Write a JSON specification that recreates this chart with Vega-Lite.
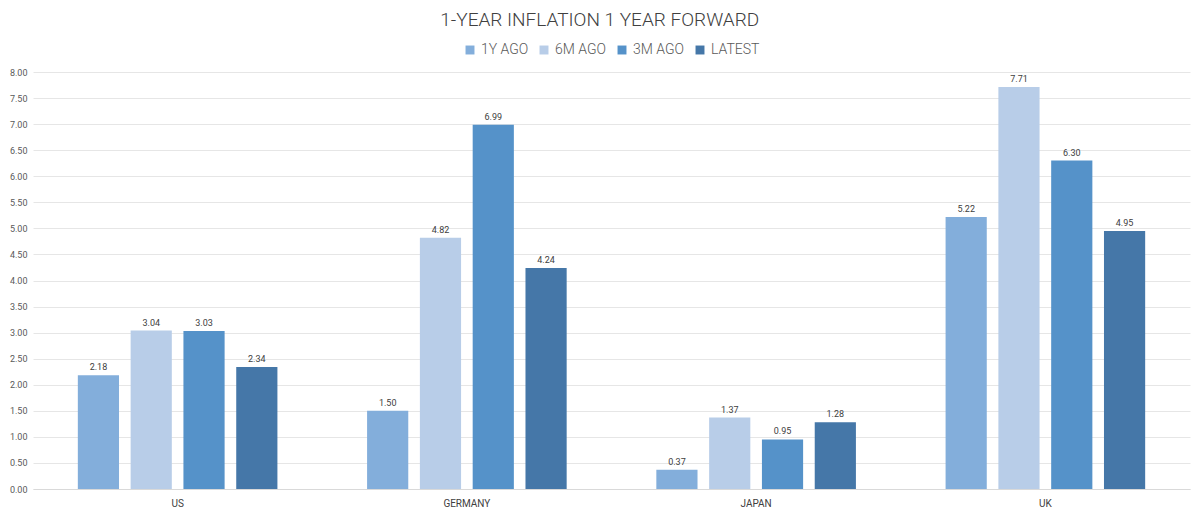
{
  "$schema": "https://vega.github.io/schema/vega-lite/v6.json",
  "width": 1200,
  "height": 514,
  "autosize": {"type": "fit", "contains": "padding"},
  "padding": {"left": 9, "right": 10, "top": 11, "bottom": 6},
  "background": "white",
  "title": {
    "text": "1-YEAR INFLATION 1 YEAR FORWARD",
    "fontSize": 19,
    "font": "Roboto",
    "fontWeight": 300,
    "color": "#404040",
    "anchor": "middle",
    "frame": "bounds",
    "offset": 13
  },
  "data": {
    "values": [
      {"country": "US", "series": "1Y AGO", "value": 2.18},
      {"country": "US", "series": "6M AGO", "value": 3.04},
      {"country": "US", "series": "3M AGO", "value": 3.03},
      {"country": "US", "series": "LATEST", "value": 2.34},
      {"country": "GERMANY", "series": "1Y AGO", "value": 1.50},
      {"country": "GERMANY", "series": "6M AGO", "value": 4.82},
      {"country": "GERMANY", "series": "3M AGO", "value": 6.99},
      {"country": "GERMANY", "series": "LATEST", "value": 4.24},
      {"country": "JAPAN", "series": "1Y AGO", "value": 0.37},
      {"country": "JAPAN", "series": "6M AGO", "value": 1.37},
      {"country": "JAPAN", "series": "3M AGO", "value": 0.95},
      {"country": "JAPAN", "series": "LATEST", "value": 1.28},
      {"country": "UK", "series": "1Y AGO", "value": 5.22},
      {"country": "UK", "series": "6M AGO", "value": 7.71},
      {"country": "UK", "series": "3M AGO", "value": 6.30},
      {"country": "UK", "series": "LATEST", "value": 4.95}
    ]
  },
  "encoding": {
    "x": {
      "field": "country",
      "type": "nominal",
      "sort": ["US", "GERMANY", "JAPAN", "UK"],
      "scale": {"paddingInner": 0.31, "paddingOuter": 0.155},
      "axis": {
        "title": null,
        "labelAngle": 0,
        "labelFontSize": 10,
        "labelFont": "Roboto",
        "labelColor": "#404040",
        "ticks": false,
        "domainColor": "#d9d9d9",
        "labelPadding": 9
      }
    },
    "xOffset": {
      "field": "series",
      "type": "nominal",
      "sort": ["1Y AGO", "6M AGO", "3M AGO", "LATEST"],
      "scale": {"paddingInner": 0.22, "paddingOuter": 0}
    },
    "y": {
      "field": "value",
      "type": "quantitative",
      "scale": {"domain": [0, 8]},
      "axis": {
        "title": null,
        "values": [0, 0.5, 1, 1.5, 2, 2.5, 3, 3.5, 4, 4.5, 5, 5.5, 6, 6.5, 7, 7.5, 8],
        "format": ".2f",
        "labelFontSize": 9,
        "labelFont": "Roboto",
        "labelColor": "#595959",
        "ticks": false,
        "domain": false,
        "gridColor": "#e6e6e6",
        "labelPadding": 6
      }
    }
  },
  "layer": [
    {
      "mark": {"type": "bar"},
      "encoding": {
        "color": {
          "field": "series",
          "type": "nominal",
          "sort": ["1Y AGO", "6M AGO", "3M AGO", "LATEST"],
          "scale": {
            "domain": ["1Y AGO", "6M AGO", "3M AGO", "LATEST"],
            "range": ["#83AEDB", "#B8CDE8", "#5592C9", "#4577A8"]
          },
          "legend": {
            "title": null,
            "orient": "top",
            "direction": "horizontal",
            "symbolType": "square",
            "symbolSize": 80,
            "symbolStrokeWidth": 0,
            "labelFontSize": 14,
            "labelFont": "Roboto",
            "labelFontWeight": 300,
            "labelColor": "#595959",
            "labelOffset": 4,
            "columnPadding": 8,
            "offset": 15
          }
        }
      }
    },
    {
      "mark": {"type": "text", "dy": -8, "fontSize": 9, "font": "Roboto", "color": "#404040"},
      "encoding": {
        "text": {"field": "value", "type": "quantitative", "format": ".2f"}
      }
    }
  ],
  "config": {
    "view": {"stroke": null},
    "legend": {"layout": {"top": {"anchor": "middle"}}}
  }
}
